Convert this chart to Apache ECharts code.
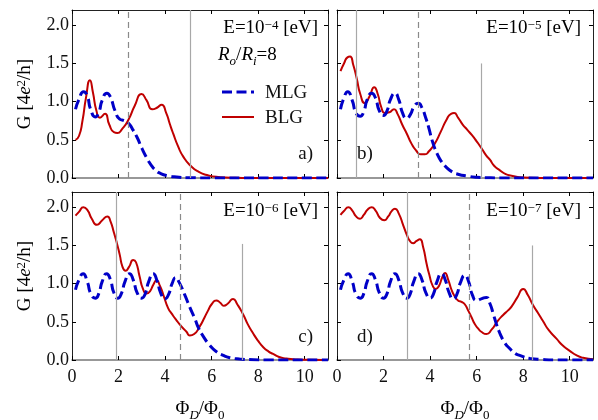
<!DOCTYPE html>
<html><head><meta charset="utf-8">
<script src="https://cdn.jsdelivr.net/npm/echarts@6/dist/echarts.min.js"></script>
<style>html,body{margin:0;padding:0;background:#fff}#c{width:598px;height:420px}</style>
</head><body><div id="c"></div>
<script>
// ---- data ----
const xTicks = [0, 2, 4, 6, 8, 10];
const yTicks = [0.0, 0.5, 1.0, 1.5, 2.0];
const energies = ['−4', '−5', '−6', '−7'];
const panelLabels = ['a)', 'b)', 'c)', 'd)'];
const legendNames = ['MLG', 'BLG'];

const mlgA = [[0.15,0.90],[0.3,1.03],[0.5,1.13],[0.65,1.08],[0.8,0.90],[1.0,0.80],[1.15,0.86],[1.3,1.02],[1.5,1.11],[1.65,1.06],[1.85,0.88],[2.05,0.77],[2.25,0.75],[2.42,0.72],[2.6,0.64],[2.8,0.53],[3.0,0.39],[3.2,0.27],[3.4,0.17],[3.6,0.10],[3.8,0.06],[4.1,0.03],[4.5,0.012],[5.0,0.004],[6,0],[11,0]];
const blgA = [[0.15,0.50],[0.3,0.55],[0.45,0.75],[0.6,1.05],[0.77,1.28],[0.9,1.12],[1.05,0.88],[1.2,0.79],[1.42,0.84],[1.6,0.70],[1.8,0.60],[1.95,0.59],[2.15,0.64],[2.42,0.76],[2.7,0.95],[2.99,1.10],[3.2,1.02],[3.45,0.90],[3.65,0.92],[3.85,0.96],[4.05,0.85],[4.2,0.71],[4.35,0.58],[4.55,0.42],[4.78,0.28],[5.1,0.16],[5.45,0.08],[5.8,0.04],[6.2,0.015],[7,0.003],[8,0],[11,0]];

const mlgB = [[0.15,0.90],[0.3,1.05],[0.46,1.13],[0.65,1.02],[0.82,0.85],[1.0,0.81],[1.15,0.87],[1.3,1.03],[1.49,1.11],[1.65,1.05],[1.82,0.88],[2.0,0.82],[2.15,0.88],[2.3,1.03],[2.49,1.11],[2.65,1.03],[2.82,0.85],[2.99,0.78],[3.15,0.83],[3.32,0.94],[3.49,0.98],[3.65,0.92],[3.8,0.80],[3.95,0.65],[4.1,0.48],[4.3,0.32],[4.5,0.21],[4.7,0.14],[4.95,0.08],[5.2,0.05],[5.6,0.025],[6.0,0.01],[6.6,0.002],[7.2,0],[11,0]];
const blgB = [[0.15,1.40],[0.3,1.50],[0.45,1.58],[0.56,1.59],[0.7,1.48],[0.85,1.30],[1.0,1.10],[1.2,0.98],[1.4,1.07],[1.6,1.19],[1.75,1.10],[1.9,0.93],[2.06,0.85],[2.25,0.86],[2.45,0.90],[2.6,0.84],[2.8,0.70],[3.0,0.58],[3.2,0.45],[3.4,0.36],[3.6,0.31],[3.78,0.31],[3.95,0.35],[4.2,0.45],[4.45,0.60],[4.7,0.76],[4.9,0.84],[5.03,0.85],[5.2,0.79],[5.4,0.70],[5.6,0.63],[5.8,0.56],[6.0,0.48],[6.21,0.39],[6.4,0.30],[6.57,0.24],[6.75,0.16],[7.0,0.10],[7.25,0.05],[7.5,0.03],[8,0.006],[9,0],[11,0]];

const mlgC = [[0.15,0.92],[0.3,1.05],[0.48,1.13],[0.65,1.03],[0.82,0.86],[1.0,0.81],[1.15,0.87],[1.3,1.03],[1.49,1.13],[1.65,1.05],[1.8,0.88],[1.97,0.81],[2.12,0.87],[2.28,1.03],[2.47,1.13],[2.63,1.05],[2.8,0.88],[2.99,0.81],[3.15,0.87],[3.3,1.03],[3.49,1.13],[3.65,1.04],[3.82,0.87],[3.99,0.80],[4.15,0.86],[4.3,1.0],[4.46,1.08],[4.6,1.02],[4.85,0.85],[5.05,0.70],[5.28,0.54],[5.45,0.41],[5.64,0.31],[5.9,0.20],[6.2,0.11],[6.5,0.06],[6.8,0.03],[7.2,0.013],[7.8,0.004],[8.5,0],[11,0]];
const blgC = [[0.15,1.89],[0.3,1.94],[0.49,2.0],[0.65,1.97],[0.85,1.85],[1.07,1.77],[1.3,1.83],[1.52,1.88],[1.65,1.82],[1.8,1.67],[1.92,1.54],[2.05,1.38],[2.17,1.22],[2.3,1.17],[2.45,1.22],[2.63,1.31],[2.75,1.28],[2.9,1.10],[3.05,0.93],[3.2,0.87],[3.35,0.90],[3.5,0.99],[3.63,1.04],[3.78,0.97],[3.95,0.83],[4.13,0.68],[4.3,0.60],[4.49,0.52],[4.7,0.44],[4.92,0.37],[5.06,0.32],[5.25,0.34],[5.49,0.44],[5.7,0.56],[5.85,0.65],[6.0,0.73],[6.2,0.78],[6.37,0.75],[6.52,0.71],[6.7,0.74],[6.92,0.80],[7.1,0.73],[7.35,0.60],[7.55,0.47],[7.78,0.35],[8.0,0.25],[8.21,0.17],[8.45,0.11],[8.64,0.08],[8.9,0.04],[9.21,0.02],[9.6,0.008],[10.2,0.002],[11,0]];

const mlgD = [[0.15,0.92],[0.3,1.05],[0.48,1.13],[0.65,1.03],[0.82,0.86],[1.0,0.81],[1.15,0.87],[1.3,1.03],[1.49,1.13],[1.65,1.05],[1.82,0.88],[2.0,0.81],[2.15,0.87],[2.3,1.03],[2.49,1.13],[2.65,1.05],[2.82,0.88],[3.0,0.81],[3.15,0.87],[3.3,1.03],[3.49,1.13],[3.65,1.05],[3.82,0.88],[4.0,0.81],[4.15,0.87],[4.3,1.03],[4.49,1.13],[4.65,1.05],[4.82,0.88],[5.0,0.80],[5.15,0.86],[5.3,1.01],[5.5,1.11],[5.65,1.03],[5.82,0.85],[6.0,0.78],[6.2,0.80],[6.42,0.82],[6.57,0.74],[6.71,0.61],[6.85,0.47],[7.0,0.35],[7.2,0.23],[7.42,0.15],[7.64,0.09],[7.85,0.06],[8.3,0.02],[8.8,0.007],[9.4,0.001],[10,0],[11,0]];
const blgD = [[0.15,1.90],[0.3,1.95],[0.49,2.0],[0.65,1.96],[0.82,1.88],[0.99,1.85],[1.15,1.90],[1.32,1.97],[1.49,2.0],[1.65,1.96],[1.85,1.86],[2.03,1.83],[2.2,1.88],[2.35,1.95],[2.49,1.98],[2.65,1.92],[2.85,1.76],[3.0,1.64],[3.13,1.56],[3.27,1.53],[3.42,1.56],[3.56,1.58],[3.7,1.48],[3.85,1.26],[3.98,1.10],[4.1,0.98],[4.24,0.93],[4.38,0.97],[4.52,1.08],[4.64,1.14],[4.78,1.05],[4.92,0.92],[5.05,0.84],[5.2,0.78],[5.35,0.76],[5.49,0.73],[5.65,0.64],[5.78,0.56],[5.92,0.47],[6.07,0.41],[6.2,0.37],[6.42,0.34],[6.65,0.40],[6.9,0.51],[7.14,0.59],[7.35,0.65],[7.5,0.70],[7.75,0.82],[8.0,0.93],[8.2,0.85],[8.42,0.72],[8.65,0.61],[8.85,0.51],[9.1,0.39],[9.43,0.28],[9.7,0.19],[10.0,0.12],[10.3,0.06],[10.57,0.03],[11,0.01]];

// vertical marker lines per panel: [x, top, style]
const vlinesA = [[2.42, 2.2, 'dashed'], [5.1, 2.2, 'solid']];
const vlinesB = [[0.82, 2.2, 'solid'], [3.49, 2.2, 'dashed'], [6.2, 1.5, 'solid']];
const vlinesC = [[1.92, 2.2, 'solid'], [4.63, 2.2, 'dashed'], [7.3, 1.52, 'solid']];
const vlinesD = [[3.02, 2.2, 'solid'], [5.7, 2.2, 'dashed'], [8.4, 1.5, 'solid']];

const mlgAll = [mlgA, mlgB, mlgC, mlgD];
const blgAll = [blgA, blgB, blgC, blgD];
const vlAll = [vlinesA, vlinesB, vlinesC, vlinesD];

// ---- layout / style ----
const FONT = "'Liberation Serif','DejaVu Serif',serif";
const BLUE = '#0000c8', RED = '#c00000';
const MLG_DASH = [10, 4.5];
const grids = [
  {left: 72, top: 10, width: 256, height: 168},
  {left: 337, top: 10, width: 256, height: 168},
  {left: 72, top: 192, width: 256, height: 168},
  {left: 337, top: 192, width: 256, height: 168}
];
const xAxes = [], yAxes = [], series = [];
grids.forEach((g, i) => {
  const showX = i >= 2, showY = i % 2 === 0;
  const tick = {show: true, inside: true, length: 4, lineStyle: {color: '#000', width: 1}};
  xAxes.push({gridIndex: i, type: 'value', min: 0, max: 11, interval: 2, position: 'bottom',
    axisLine: {show: true, onZero: false, lineStyle: {color: '#777', width: 1.5}},
    axisTick: tick, splitLine: {show: false},
    axisLabel: {show: showX, margin: 8, color: '#111', fontFamily: FONT, fontSize: 18,
      formatter: v => xTicks.includes(v) ? String(v) : '', showMaxLabel: false}});
  xAxes.push({gridIndex: i, type: 'value', min: 0, max: 11, interval: 2, position: 'top',
    axisLine: {show: true, onZero: false, lineStyle: {color: '#222', width: 1}},
    axisTick: tick, splitLine: {show: false}, axisLabel: {show: false}});
  yAxes.push({gridIndex: i, type: 'value', min: 0, max: 2.2, interval: 0.5, position: 'left',
    axisLine: {show: true, onZero: false, lineStyle: {color: '#222', width: 1}},
    axisTick: tick, splitLine: {show: false},
    axisLabel: {show: showY, margin: 3, color: '#111', fontFamily: FONT, fontSize: 18,
      formatter: v => yTicks.includes(v) ? v.toFixed(1) : '', showMaxLabel: false}});
  yAxes.push({gridIndex: i, type: 'value', min: 0, max: 2.2, interval: 0.5, position: 'right',
    axisLine: {show: true, onZero: false, lineStyle: {color: '#222', width: 1}},
    axisTick: tick, splitLine: {show: false}, axisLabel: {show: false}});

  const xi = 2 * i, yi = 2 * i;
  series.push({type: 'line', xAxisIndex: xi, yAxisIndex: yi, data: [], silent: true, z: 1,
    markLine: {silent: true, symbol: ['none', 'none'], label: {show: false}, animation: false,
      data: vlAll[i].map(v => [
        {coord: [v[0], 0], lineStyle: {type: v[2] === 'dashed' ? [6, 4] : 'solid', color: v[2] === 'dashed' ? '#8a8a8a' : '#a8a8a8', width: 1.2}},
        {coord: [v[0], v[1]]}])}});
  series.push({name: legendNames[0], type: 'line', xAxisIndex: xi, yAxisIndex: yi, data: mlgAll[i],
    showSymbol: false, symbol: 'none', smooth: 0.6, z: 3, clip: true,
    lineStyle: {color: BLUE, width: 3, type: MLG_DASH}, itemStyle: {color: BLUE}});
  series.push({name: legendNames[1], type: 'line', xAxisIndex: xi, yAxisIndex: yi, data: blgAll[i],
    showSymbol: false, symbol: 'none', smooth: 0.6, z: 2, clip: true,
    lineStyle: {color: RED, width: 2}, itemStyle: {color: RED}});
});

const base = {fontFamily: FONT, fontSize: 19, color: '#111'};
const rich = {
  n: {...base},
  i: {...base, fontStyle: 'italic'},
  s: {fontFamily: FONT, fontSize: 13, color: '#111', verticalAlign: 'top', lineHeight: 19},
  si: {fontFamily: FONT, fontSize: 13, color: '#111', fontStyle: 'italic', verticalAlign: 'bottom', lineHeight: 26},
  sb: {fontFamily: FONT, fontSize: 13, color: '#111', verticalAlign: 'bottom', lineHeight: 26}
};
const eText = [[318, 38], [581, 38], [318, 221], [581, 221]];
const pLab = [[313, 164, 'right'], [357, 164, 'left'], [313, 347, 'right'], [357, 347, 'left']];
const graphics = [];
energies.forEach((e, i) => {
  graphics.push({type: 'text', x: eText[i][0], y: eText[i][1], z: 10,
    style: {text: '{n|E=10}{s|' + e + '}{n| [eV]}', rich, textAlign: 'right', textVerticalAlign: 'bottom'}});
  graphics.push({type: 'text', x: pLab[i][0], y: pLab[i][1], z: 10,
    style: {text: panelLabels[i], font: '19px ' + FONT, fill: '#111', textAlign: pLab[i][2], textVerticalAlign: 'bottom'}});
});
graphics.push({type: 'text', x: 218, y: 68, z: 10,
  style: {text: '{i|R}{si|o}{n|/}{i|R}{si|i}{n|=8}', rich, textAlign: 'left', textVerticalAlign: 'bottom'}});
// legend (key) inside panel a
[[92, BLUE, 3, MLG_DASH], [117, RED, 2, 'solid']].forEach((k, j) => {
  graphics.push({type: 'line', z: 10, shape: {x1: 222, y1: k[0], x2: 254, y2: k[0]},
    style: {stroke: k[1], lineWidth: k[2], lineDash: k[3] === 'solid' ? null : k[3]}});
  graphics.push({type: 'text', x: 265, y: k[0] + 1, z: 10,
    style: {text: legendNames[j], font: '19px ' + FONT, fill: '#111', textAlign: 'left', textVerticalAlign: 'middle'}});
});
[94, 276].forEach(cy => graphics.push({type: 'text', x: 25, y: cy, rotation: Math.PI / 2, z: 10,
  style: {text: '{n|G [4}{i|e}{s|2}{n|/h]}', rich, textAlign: 'center', textVerticalAlign: 'middle'}}));
[200, 465].forEach(cx => graphics.push({type: 'text', x: cx, y: 409, z: 10,
  style: {text: '{n|Φ}{si|D}{n|/Φ}{sb|0}', rich, textAlign: 'center', textVerticalAlign: 'middle'}}));

const chart = echarts.init(document.getElementById('c'), null, {renderer: 'canvas'});
chart.setOption({
  animation: false,
  grid: grids,
  xAxis: xAxes,
  yAxis: yAxes,
  series: series,
  graphic: graphics
});
</script></body></html>
